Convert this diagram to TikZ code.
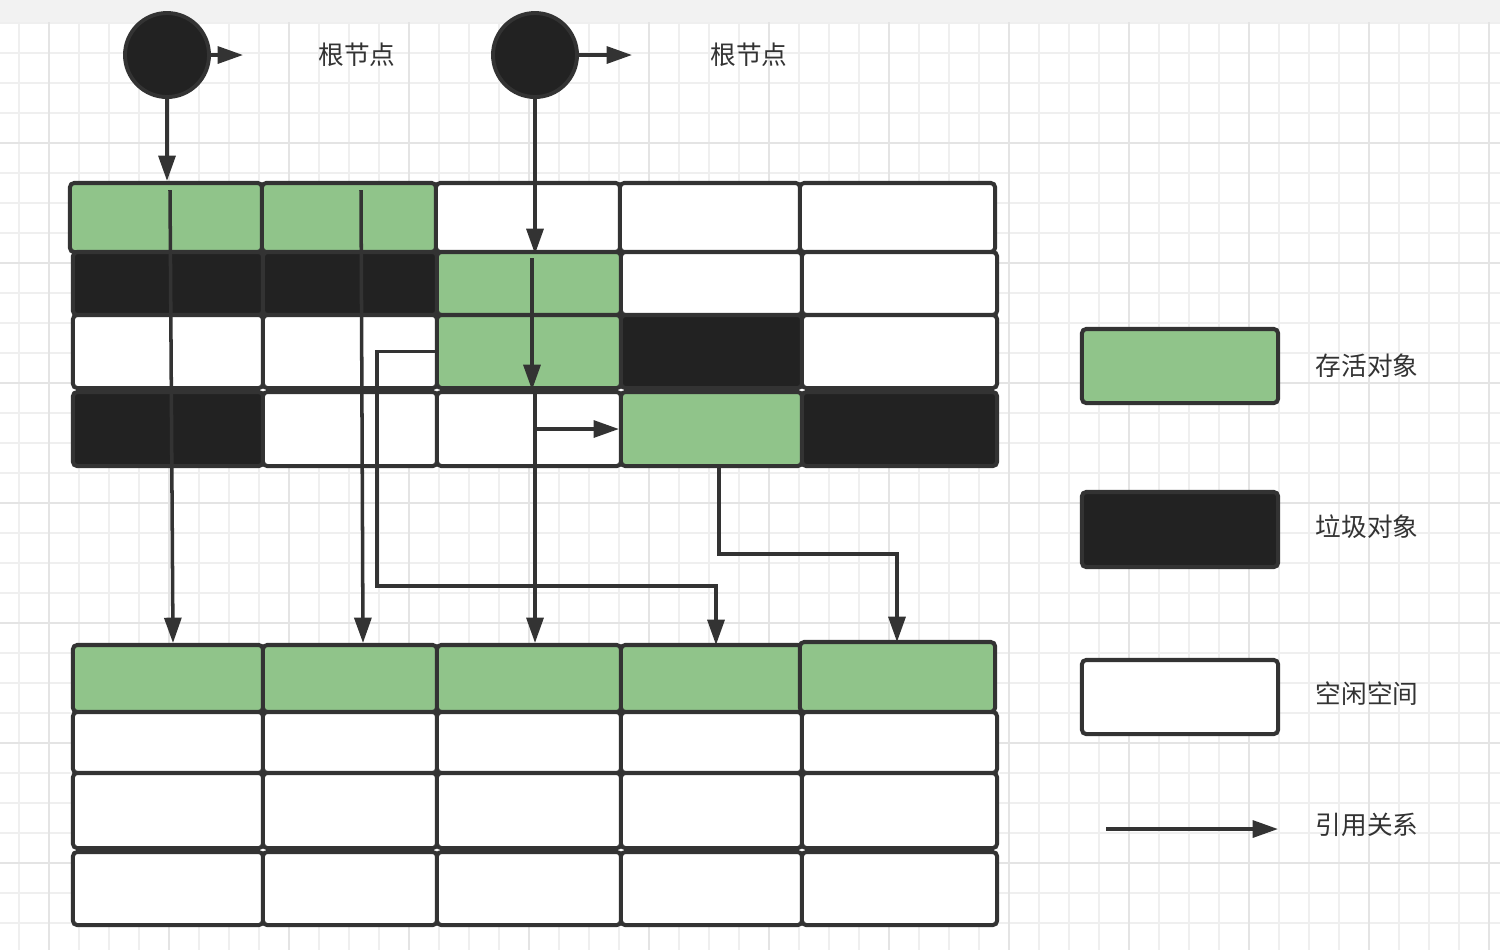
\documentclass[tikz,border=0pt]{standalone}
\usepackage{fontspec}
\setmainfont{Noto Sans CJK SC}
\usetikzlibrary{arrows.meta}
\definecolor{live}{HTML}{90C48A}
\definecolor{dead}{HTML}{222222}
\definecolor{bord}{HTML}{333333}
\definecolor{txt}{HTML}{333333}
\definecolor{gminor}{HTML}{EFEFEF}
\definecolor{gmajor}{HTML}{E4E4E4}
\definecolor{strip}{HTML}{F2F2F2}
\tikzset{
  cell/.style={draw=bord, line width=1.15pt, rounded corners=1.2pt, inner sep=0pt},
  ref/.style={draw=bord, line width=1pt, -{Triangle[length=7.2pt,width=4.8pt]}},
  lbl/.style={text=txt, font=\fontsize{7.3pt}{8pt}\selectfont, inner sep=0pt},
  root/.style={circle, fill=dead, draw=bord, line width=1.1pt, minimum size=0.84cm, inner sep=0pt},
}
\begin{document}
\begin{tikzpicture}[x=0.01cm,y=-0.01cm]
\useasboundingbox (0,0) rectangle (1500,950);
\fill[white] (0,0) rectangle (1500,950);
% grid
\foreach \gx in {19,49,...,1500}{\draw[gminor, line width=0.35pt] (\gx,22) -- (\gx,950);}
\foreach \gy in {23,53,...,950}{\draw[gminor, line width=0.35pt] (0,\gy) -- (1500,\gy);}
\foreach \gx in {49,169,...,1500}{\draw[gmajor, line width=0.45pt] (\gx,22) -- (\gx,950);}
\foreach \gy in {143,263,...,950}{\draw[gmajor, line width=0.45pt] (0,\gy) -- (1500,\gy);}
\fill[strip] (0,0) rectangle (1500,22);

% roots
\node[root] (root1) at (167,55) {};
\node[root] (root2) at (535,55) {};
\node[lbl] (rl1) at (357,55) {根节点};
\node[lbl] (rl2) at (749,55) {根节点};
\coordinate (ra1) at (243,55);
\coordinate (ra2) at (632,55);

% top heap, row 1
\node[cell, fill=live,  minimum width=1.92cm, minimum height=0.69cm] (t11) at (166,217.5) {};
\node[cell, fill=live,  minimum width=1.74cm, minimum height=0.69cm] (t12) at (349,217.5) {};
\node[cell, fill=white, minimum width=1.84cm, minimum height=0.69cm] (t13) at (528,217.5) {};
\node[cell, fill=white, minimum width=1.80cm, minimum height=0.69cm] (t14) at (710,217.5) {};
\node[cell, fill=white, minimum width=1.95cm, minimum height=0.69cm] (t15) at (897.5,217.5) {};
% row 2
\node[cell, fill=dead,  minimum width=1.90cm, minimum height=0.63cm] (t21) at (168,283.5) {};
\node[cell, fill=dead,  minimum width=1.74cm, minimum height=0.63cm] (t22) at (350,283.5) {};
\node[cell, fill=live,  minimum width=1.84cm, minimum height=0.63cm] (t23) at (529,283.5) {};
\node[cell, fill=white, minimum width=1.81cm, minimum height=0.63cm] (t24) at (711.5,283.5) {};
\node[cell, fill=white, minimum width=1.95cm, minimum height=0.63cm] (t25) at (899.5,283.5) {};
% row 3
\node[cell, fill=white, minimum width=1.90cm, minimum height=0.73cm] (t31) at (168,351.5) {};
\node[cell, fill=white, minimum width=1.74cm, minimum height=0.73cm] (t32) at (350,351.5) {};
\node[cell, fill=live,  minimum width=1.84cm, minimum height=0.73cm] (t33) at (529,351.5) {};
\node[cell, fill=dead,  minimum width=1.81cm, minimum height=0.73cm] (t34) at (711.5,351.5) {};
\node[cell, fill=white, minimum width=1.95cm, minimum height=0.73cm] (t35) at (899.5,351.5) {};
% row 4
\node[cell, fill=dead,  minimum width=1.90cm, minimum height=0.74cm] (t41) at (168,429) {};
\node[cell, fill=white, minimum width=1.74cm, minimum height=0.74cm] (t42) at (350,429) {};
\node[cell, fill=white, minimum width=1.84cm, minimum height=0.74cm] (t43) at (529,429) {};
\node[cell, fill=live,  minimum width=1.81cm, minimum height=0.74cm] (t44) at (711.5,429) {};
\node[cell, fill=dead,  minimum width=1.95cm, minimum height=0.74cm] (t45) at (899.5,429) {};

% bottom heap
\node[cell, fill=live,  minimum width=1.90cm, minimum height=0.67cm] (b11) at (168,678.5) {};
\node[cell, fill=live,  minimum width=1.74cm, minimum height=0.67cm] (b12) at (350,678.5) {};
\node[cell, fill=live,  minimum width=1.84cm, minimum height=0.67cm] (b13) at (529,678.5) {};
\node[cell, fill=live,  minimum width=1.81cm, minimum height=0.67cm] (b14) at (711.5,678.5) {};
\node[cell, fill=live,  minimum width=1.95cm, minimum height=0.70cm] (b15) at (897.5,677) {};
\foreach \r/\cy/\h in {2/742.5/0.61,3/810.5/0.75,4/888.5/0.73}{
  \node[cell, fill=white, minimum width=1.90cm, minimum height=\h cm] (b\r1) at (168,\cy) {};
  \node[cell, fill=white, minimum width=1.74cm, minimum height=\h cm] (b\r2) at (350,\cy) {};
  \node[cell, fill=white, minimum width=1.84cm, minimum height=\h cm] (b\r3) at (529,\cy) {};
  \node[cell, fill=white, minimum width=1.81cm, minimum height=\h cm] (b\r4) at (711.5,\cy) {};
  \node[cell, fill=white, minimum width=1.95cm, minimum height=\h cm] (b\r5) at (899.5,\cy) {};
}

% connectors
\draw[ref] (root1.east) -- (ra1);
\draw[ref] (root2.east) -- (ra2);
\draw[ref] (root1.south) -- (root1.south |- t11.north);
\draw[ref] (root2.south) -- (root2.south |- t13.south);
\coordinate (s1) at (170,190);
\coordinate (e1) at (173,643);
\draw[ref] (s1) -- (e1);
\coordinate (s2) at (361,190);
\coordinate (e2) at (363,643);
\draw[ref] (s2) -- (e2);
\coordinate (s5) at (532,258);
\draw[ref] (s5) -- (s5 |- t33.south);
\coordinate (s6) at (535,388);
\draw[ref] (s6) -- (s6 |- b13.north);
\draw[ref] (s6) |- (t44.west);
\coordinate (k7) at (377,586);
\coordinate (e7) at (716,645);
\draw[ref] (t33.west) -| (k7) -| (e7);
\coordinate (s8) at (719,466);
\coordinate (k8) at (719,554);
\coordinate (e8) at (897,642);
\draw[ref] (s8) -- (k8) -| (e8);

% legend
\node[cell, fill=live,  minimum width=1.96cm, minimum height=0.74cm] (lg1) at (1180,366) {};
\node[cell, fill=dead,  minimum width=1.96cm, minimum height=0.75cm] (lg2) at (1180,529.5) {};
\node[cell, fill=white, minimum width=1.96cm, minimum height=0.74cm] (lg3) at (1180,697) {};
\coordinate (la) at (1106,829);
\coordinate (lb) at (1278,829);
\draw[ref] (la) -- (lb);
\node[lbl] (ll1) at (1367,366) {存活对象};
\node[lbl] (ll2) at (1367,527) {垃圾对象};
\node[lbl] (ll3) at (1367,694) {空闲空间};
\node[lbl] (ll4) at (1367,825) {引用关系};
\end{tikzpicture}
\end{document}
